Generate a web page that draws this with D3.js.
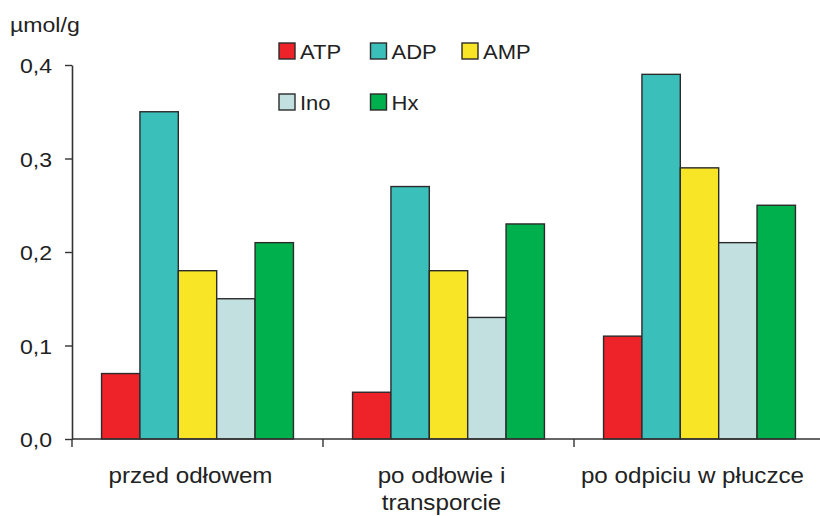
<!DOCTYPE html>
<html>
<head>
<meta charset="utf-8">
<script src="https://cdn.jsdelivr.net/npm/d3@7/dist/d3.min.js"></script>
<style>
  html, body { margin: 0; padding: 0; background: #fff; }
  svg { display: block; font-family: "Liberation Sans", Arial, Helvetica, sans-serif; }
</style>
</head>
<body>
<svg id="chart" width="820" height="516"></svg>
<script>
// Nucleotide degradation products (µmol/g) per handling stage
const categories = ["przed odłowem", "po odłowie i\ntransporcie", "po odpiciu w płuczce"];
const seriesNames = ["ATP", "ADP", "AMP", "Ino", "Hx"];
const seriesColors = ["#ee2229", "#3bbfbb", "#f7e526", "#c2e0e0", "#00b04c"];
const ATP = [0.07, 0.05, 0.11];
const ADP = [0.35, 0.27, 0.39];
const AMP = [0.18, 0.18, 0.29];
const Ino = [0.15, 0.13, 0.21];
const Hx  = [0.21, 0.23, 0.25];
const yTicks = [0, 0.1, 0.2, 0.3, 0.4];
const yUnit = "µmol/g";

const seriesValues = [ATP, ADP, AMP, Ino, Hx];
const rows = categories.map((c, i) => ({
  category: c,
  values: seriesNames.map((s, j) => ({ key: s, value: seriesValues[j][i], color: seriesColors[j] }))
}));

const svg = d3.select("#chart");
const axisColor = "#333";
const textColor = "#222";
const stretch = 1.1; // slightly widened lettering

const x0 = d3.scaleBand().domain(categories).range([72, 825]).padding(0);
const x1 = d3.scaleBand().domain(seriesNames).range([0, x0.bandwidth()]).paddingInner(0).paddingOuter(0.77);
const y = d3.scaleLinear().domain([0, 0.4]).range([439, 65]);

// bars
const groups = svg.append("g").selectAll("g")
  .data(rows).join("g")
  .attr("transform", d => `translate(${x0(d.category)},0)`);

groups.selectAll("rect")
  .data(d => d.values).join("rect")
  .attr("x", d => x1(d.key))
  .attr("y", d => y(d.value))
  .attr("width", x1.bandwidth())
  .attr("height", d => y(0) - y(d.value))
  .attr("fill", d => d.color)
  .attr("stroke", "#2b2b2b")
  .attr("stroke-width", 1.4);

// y axis
const fmt = d => d3.format(".1f")(d).replace(".", ",");
const yAxis = svg.append("g")
  .attr("transform", "translate(72,0)")
  .call(d3.axisLeft(y).tickValues(yTicks).tickFormat(fmt).tickSize(7).tickPadding(6).tickSizeOuter(0));
yAxis.select(".domain").attr("stroke", axisColor).attr("stroke-width", 1.6);
yAxis.selectAll(".tick line").attr("stroke", axisColor).attr("stroke-width", 1.4);
yAxis.selectAll(".tick text")
  .attr("fill", textColor)
  .attr("x", 0)
  .attr("transform", `translate(-20,0) scale(${stretch},1)`)
  .style("font-size", "21px")
  .style("font-family", "'Liberation Sans', Arial, sans-serif")
  .attr("dy", "0.36em");

// x axis: line with separator ticks at band edges
const xAxisG = svg.append("g").attr("transform", `translate(0,${y(0)})`);
xAxisG.append("line")
  .attr("x1", 72).attr("x2", 825)
  .attr("stroke", axisColor).attr("stroke-width", 1.6);
xAxisG.selectAll("line.sep")
  .data(categories).join("line")
  .attr("class", "sep")
  .attr("x1", d => x0(d)).attr("x2", d => x0(d))
  .attr("y1", 0).attr("y2", 8)
  .attr("stroke", axisColor).attr("stroke-width", 1.4);

// category labels
const catLabels = svg.append("g").selectAll("text")
  .data(categories).join("text")
  .attr("transform", d => `translate(${x0(d) + x0.bandwidth() / 2 - 7},483) scale(${stretch},1)`)
  .attr("text-anchor", "middle")
  .attr("fill", textColor)
  .style("font-size", "22px");
catLabels.each(function(d) {
  const t = d3.select(this);
  d.split("\n").forEach((ln, i) => {
    t.append("tspan")
      .attr("x", 0)
      .attr("dy", i === 0 ? 0 : 27)
      .text(ln);
  });
});

// unit label
svg.append("text")
  .attr("transform", `translate(10,32) scale(${stretch},1)`)
  .attr("fill", textColor)
  .style("font-size", "21px")
  .text(yUnit);

// legend: three per row
const legend = svg.append("g").selectAll("g")
  .data(seriesNames).join("g")
  .attr("transform", (d, i) => `translate(${279 + (i % 3) * 91.5},${43 + Math.floor(i / 3) * 51})`);
legend.append("rect")
  .attr("width", 16).attr("height", 16)
  .attr("fill", (d, i) => seriesColors[i])
  .attr("stroke", "#2b2b2b").attr("stroke-width", 1.4);
legend.append("text")
  .attr("transform", `translate(21,16) scale(${stretch},1)`)
  .attr("fill", textColor)
  .style("font-size", "20px")
  .text(d => d);
</script>
</body>
</html>
